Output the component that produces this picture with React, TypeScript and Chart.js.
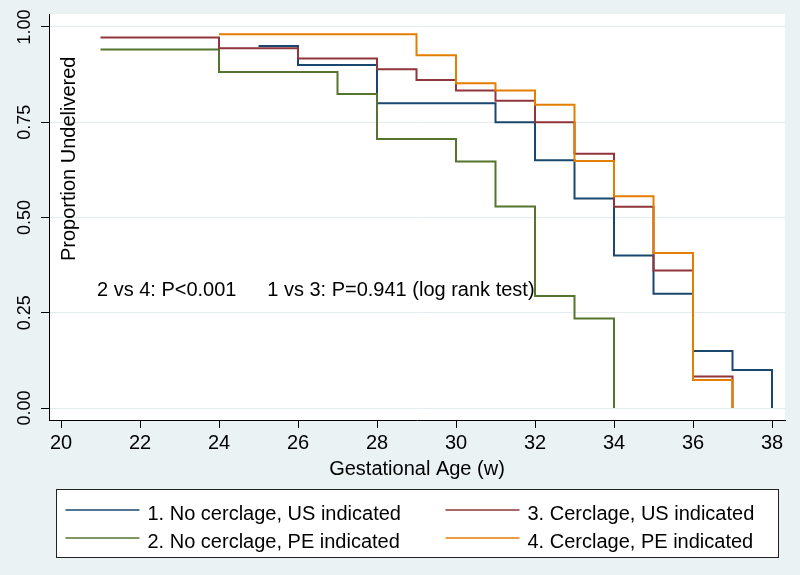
import React, { useEffect, useRef } from 'react';
import { Chart, registerables } from 'chart.js';

Chart.register(...registerables);

const FONT = "'Liberation Sans', Arial, Helvetica, sans-serif";

// Kaplan-Meier step data: week of drop and proportion undelivered from that week on
const seriesLabels = [
  '1. No cerclage, US indicated',
  '2. No cerclage, PE indicated',
  '3. Cerclage, US indicated',
  '4. Cerclage, PE indicated',
];
const seriesColors = ['#1a476f', '#55752f', '#90353b', '#e37e00'];

const weeksNoCerclageUS = [25, 26, 28, 31, 32, 33, 34, 35, 36, 37, 38];
const survNoCerclageUS = [0.95, 0.9, 0.8, 0.75, 0.65, 0.55, 0.4, 0.3, 0.15, 0.1, 0];

const weeksNoCerclagePE = [21, 24, 27, 28, 30, 31, 32, 33, 34];
const survNoCerclagePE = [0.941, 0.882, 0.824, 0.706, 0.647, 0.529, 0.294, 0.235, 0];

const weeksCerclageUS = [21, 24, 26, 28, 29, 30, 31, 32, 33, 34, 35, 36, 37];
const survCerclageUS = [0.972, 0.944, 0.917, 0.889, 0.861, 0.833, 0.806, 0.75, 0.667, 0.528, 0.361, 0.083, 0];

const weeksCerclagePE = [24, 29, 30, 31, 32, 33, 34, 35, 36, 37];
const survCerclagePE = [0.981, 0.926, 0.852, 0.833, 0.796, 0.648, 0.556, 0.407, 0.074, 0];

const xTicks = [20, 22, 24, 26, 28, 30, 32, 34, 36, 38];
const yTicks = [0, 0.25, 0.5, 0.75, 1];

const xTitle = 'Gestational Age (w)';
const yTitle = 'Proportion Undelivered';
const yTitleAt = [20.215, 0.654];

const annotationTexts = ['2 vs 4: P<0.001', '1 vs 3: P=0.941 (log rank test)'];
const annotationX = [20.91, 25.22];
const annotationY = [0.293, 0.293];

const seriesWeeks = [weeksNoCerclageUS, weeksNoCerclagePE, weeksCerclageUS, weeksCerclagePE];
const seriesSurv = [survNoCerclageUS, survNoCerclagePE, survCerclageUS, survCerclagePE];
const drawOrder = [4, 3, 2, 1];

const BG = '#eaf2f3';

const backgroundPlugin = {
  id: 'stataBackground',
  beforeDraw(chart: any) {
    const { ctx, chartArea } = chart;
    ctx.save();
    ctx.fillStyle = BG;
    ctx.fillRect(0, 0, chart.width, chart.height);
    ctx.fillStyle = '#ffffff';
    ctx.fillRect(chartArea.left, chartArea.top, chartArea.right - chartArea.left, chartArea.bottom - chartArea.top);
    ctx.restore();
  },
};

const textPlugin = {
  id: 'plotTexts',
  afterDatasetsDraw(chart: any) {
    const { ctx } = chart;
    const xs = chart.scales.x;
    const ys = chart.scales.y;
    ctx.save();
    ctx.fillStyle = '#000';
    ctx.font = `20px ${FONT}`;
    ctx.textAlign = 'left';
    ctx.textBaseline = 'alphabetic';
    annotationTexts.forEach((t, i) => {
      ctx.fillText(t, xs.getPixelForValue(annotationX[i]), ys.getPixelForValue(annotationY[i]));
    });
    // y title inside plot region
    ctx.translate(xs.getPixelForValue(yTitleAt[0]), ys.getPixelForValue(yTitleAt[1]));
    ctx.rotate(-Math.PI / 2);
    ctx.textAlign = 'center';
    ctx.textBaseline = 'middle';
    ctx.fillText(yTitle, 0, 0);
    ctx.restore();
  },
};

const legendPlugin = {
  id: 'boxLegend',
  afterDraw(chart: any) {
    const { ctx, chartArea } = chart;
    const xs = chart.scales.x;
    const boxW = 722;
    const boxH = 68;
    const cx = (chartArea.left + chartArea.right) / 2;
    const left = Math.round(cx - boxW / 2) + 0.5;
    const top = Math.round(xs.bottom + 8) + 0.5;
    ctx.save();
    ctx.fillStyle = '#ffffff';
    ctx.fillRect(left, top, boxW, boxH);
    ctx.strokeStyle = '#222';
    ctx.lineWidth = 1;
    ctx.strokeRect(left, top, boxW, boxH);
    const colX = [left + 9, left + 389];
    const rowY = [top + 20, top + 48];
    const lineLen = 74;
    ctx.font = `20px ${FONT}`;
    ctx.textAlign = 'left';
    ctx.textBaseline = 'alphabetic';
    chart.data.datasets.forEach((ds: any, i: number) => {
      const col = Math.floor(i / 2);
      const row = i % 2;
      const x = colX[col];
      const y = Math.round(rowY[row]);
      ctx.strokeStyle = ds.borderColor;
      ctx.lineWidth = 1.6;
      ctx.beginPath();
      ctx.moveTo(x, y);
      ctx.lineTo(x + lineLen, y);
      ctx.stroke();
      ctx.fillStyle = '#000';
      ctx.fillText(ds.label, x + lineLen + 8, y + 10);
    });
    ctx.restore();
  },
};

export default function App() {
  const ref = useRef<HTMLCanvasElement>(null);

  useEffect(() => {
    document.body.style.margin = '0';
    Chart.defaults.font.family = FONT;
    const datasets = seriesLabels.map((label, i) => ({
      label,
      data: seriesWeeks[i].map((w, j) => ({ x: w, y: seriesSurv[i][j] })),
      borderColor: seriesColors[i],
      backgroundColor: seriesColors[i],
      borderWidth: 2,
      pointRadius: 0,
      pointHoverRadius: 0,
      stepped: 'before' as const,
      fill: false,
      order: drawOrder[i],
    }));

    const chart = new Chart(ref.current as HTMLCanvasElement, {
      type: 'line',
      data: { datasets },
      options: {
        responsive: false,
        animation: false,
        events: [],
        layout: { padding: { left: 0, right: 15, top: 14, bottom: 94 } },
        plugins: {
          legend: { display: false },
          tooltip: { enabled: false },
          title: { display: false },
        },
        scales: {
          x: {
            type: 'linear',
            min: 19.696,
            max: 38.329,
            afterBuildTicks: (scale: any) => {
              scale.ticks = xTicks.map((v) => ({ value: v }));
            },
            ticks: {
              autoSkip: false,
              maxRotation: 0,
              minRotation: 0,
              padding: 3,
              color: '#000',
              font: { size: 20, family: FONT },
              callback: (v: any) => String(v),
            },
            grid: {
              drawOnChartArea: false,
              drawTicks: true,
              tickLength: 8,
              tickColor: '#000',
              lineWidth: 1,
            },
            border: { display: true, color: '#000', width: 1 },
            title: {
              display: true,
              text: xTitle,
              color: '#000',
              font: { size: 20, family: FONT },
              padding: { top: -1, bottom: 0 },
            },
          },
          y: {
            type: 'linear',
            min: -0.03125,
            max: 1.0339,
            afterBuildTicks: (scale: any) => {
              scale.ticks = yTicks.map((v) => ({ value: v }));
            },
            afterFit: (scale: any) => {
              scale.width = 49;
            },
            ticks: {
              autoSkip: false,
              minRotation: 90,
              maxRotation: 90,
              crossAlign: 'center',
              padding: -1.5,
              color: '#000',
              font: { size: 18, family: FONT },
              callback: (v: any) => Number(v).toFixed(2),
            },
            grid: {
              drawOnChartArea: true,
              drawTicks: true,
              tickLength: 8,
              color: '#e3ecee',
              tickColor: '#000',
              lineWidth: 1,
            },
            border: { display: true, color: '#000', width: 1 },
            title: { display: false },
          },
        },
      },
      plugins: [backgroundPlugin, textPlugin, legendPlugin],
    } as any);

    return () => chart.destroy();
  }, []);

  return (
    <div style={{ width: 800, height: 575 }}>
      <canvas ref={ref} width={800} height={575} style={{ display: 'block' }} />
    </div>
  );
}
